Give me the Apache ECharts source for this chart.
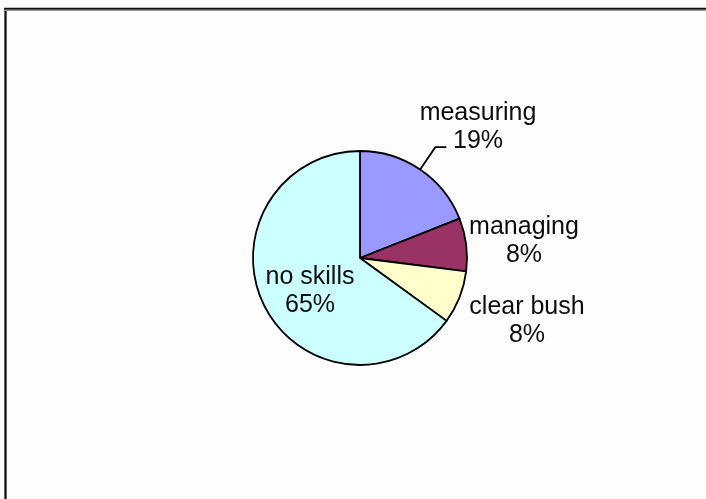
<!DOCTYPE html>
<html>
<head>
<meta charset="utf-8">
<script src="https://cdn.jsdelivr.net/npm/echarts@6/dist/echarts.min.js"></script>
<style>
  html, body { margin: 0; padding: 0; background: #fdfdfd; }
  #chart { width: 706px; height: 499px; }
</style>
</head>
<body>
<div id="chart"></div>
<script>
// Skill categories and their shares (percent)
const categories = ['measuring', 'managing', 'clear bush', 'no skills'];
const shares = [19, 8, 8, 65];
const sliceColors = ['#9999ff', '#993366', '#ffffcc', '#ccffff'];

// Pie geometry and label placement (relative to the pie centre)
const CENTER = [360, 258];
const RADIUS = 107;
const labelShiftX = [118, 164, 167, -50];
const labelShiftY = [-131, -17, 63, 33];
const showLeader = [true, false, false, false];

const chart = echarts.init(document.getElementById('chart'), null, { renderer: 'canvas' });

const data = categories.map(function (name, i) {
  return {
    name: name,
    value: shares[i],
    itemStyle: { color: sliceColors[i] },
    labelLine: { show: showLeader[i] }
  };
});

chart.setOption({
  backgroundColor: '#fdfdfd',
  animation: false,
  graphic: [
    // frame edges
    { type: 'line', shape: { x1: 5.5, y1: 8, x2: 5.5, y2: 499 }, style: { stroke: '#9a9a9a', lineWidth: 3 }, silent: true },
    { type: 'line', shape: { x1: 5.5, y1: 8, x2: 5.5, y2: 499 }, style: { stroke: '#111', lineWidth: 1.8 }, silent: true },
    { type: 'line', shape: { x1: 4, y1: 9.5, x2: 706, y2: 9.5 }, style: { stroke: '#9a9a9a', lineWidth: 3 }, silent: true },
    { type: 'line', shape: { x1: 4, y1: 8.6, x2: 706, y2: 8.6 }, style: { stroke: '#111', lineWidth: 1.8 }, silent: true }
  ],
  series: [{
    type: 'pie',
    center: CENTER,
    radius: RADIUS,
    startAngle: 90,
    clockwise: true,
    avoidLabelOverlap: false,
    emphasis: { disabled: true },
    itemStyle: { borderColor: '#000', borderWidth: 1.8 },
    label: {
      show: true,
      position: 'outside',
      formatter: function (p) { return p.name + '\n' + p.value + '%'; },
      fontFamily: 'Liberation Sans, Arial, sans-serif',
      fontSize: 25,
      lineHeight: 28,
      color: '#0d0d0d'
    },
    labelLine: {
      show: true,
      length: 27,
      length2: 11,
      smooth: false,
      lineStyle: { color: '#000', width: 1.8 }
    },
    labelLayout: function (p) {
      const i = p.dataIndex;
      const out = {
        x: CENTER[0] + labelShiftX[i],
        y: CENTER[1] + labelShiftY[i],
        align: 'center',
        verticalAlign: 'middle'
      };
      if (p.labelLinePoints) out.labelLinePoints = p.labelLinePoints;
      return out;
    },
    data: data
  }]
});
</script>
</body>
</html>
